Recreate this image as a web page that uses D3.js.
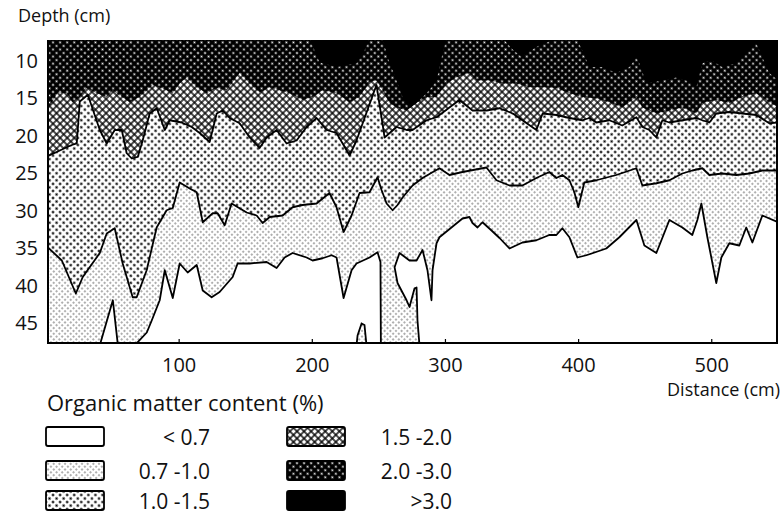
<!DOCTYPE html>
<html>
<head>
<meta charset="utf-8">
<script src="https://cdn.jsdelivr.net/npm/d3@7"></script>
<style>
body { margin: 0; background: #fff; }
text { font-family: "Open Sans", sans-serif; fill: #111; }
</style>
</head>
<body>
<svg id="chart" width="783" height="523"></svg>
<script>
// boundaries between classes, [distance (cm), depth (cm)]
// b1: >3.0 above / 2.0-3.0 below
var b1 = [[0,7],[198,7],[201.7,8.7],[205.5,10.3],[218.3,10.9],[233.2,10.4],[239.2,8.7],[243,7],[252.8,7],[256.5,9.6],[263.3,12.7],[267.8,14.9],[273,16.4],[278.3,15.7],[285.8,14.4],[293.3,12.7],[297.8,9.1],[300.8,7],[343,7],[350,8.5],[357,9.5],[363,8.8],[370.6,8],[378,7.5],[398.3,7],[402.8,8.7],[408.1,10.9],[417.8,10.9],[428.3,11.7],[438.1,10.9],[443.4,9.6],[445.6,10.4],[450.9,13.1],[462.9,12.7],[473.4,12.3],[480.9,12.7],[488.4,13.6],[492.9,10.4],[499.7,10],[507.9,10.9],[518.4,10.4],[528.2,8.7],[533.4,7.7],[538,9.6],[543.2,11.7],[550,12.7]];
// b2: 2.0-3.0 above / 1.5-2.0 below
var b2 = [[0,16.9],[8.9,14.3],[15.6,14.4],[20.1,15.6],[25.4,14.9],[30.6,13.7],[38.1,14.4],[45.6,14.9],[50.1,14],[55.4,14.7],[62.9,15.6],[70.4,14.9],[80.2,13.3],[90.7,14],[95.2,14.4],[100.4,13.1],[105.7,12.3],[113.2,13.6],[120.7,14.4],[128.2,13.7],[135.7,14],[145.4,11.7],[152.9,13.1],[160.4,14.3],[168,13.6],[175.5,14],[183,14.4],[192.9,15.3],[200.3,14.9],[207.8,14],[218.3,14.4],[228,15.6],[235.5,14.9],[243,12.9],[248.2,12.7],[252.8,14],[258,15.7],[263.3,16.3],[270.8,16.7],[278.3,15.7],[285.8,14.9],[293.3,14.9],[300.8,13.1],[308.3,12.3],[318,11.7],[323.3,12.7],[333,12.7],[343.1,13.1],[353.1,13.1],[363,13.6],[373,13.6],[383.3,13.7],[393.1,14.4],[402.8,14.9],[413.3,15.1],[423.1,15.6],[432.8,16.3],[443.4,14.9],[447.9,16.3],[458.4,17.1],[468.2,16.7],[477.9,16.3],[488.4,17.1],[492.9,15.7],[503.4,15.3],[513.2,15.7],[523,14.9],[533.4,14.4],[543.2,15.6],[550,16.3]];
// b3: 1.5-2.0 above / 1.0-1.5 below
var b3 = [[0,22.9],[15.6,21.6],[19.4,21.3],[23.1,21.1],[25.4,15.5],[31.4,14.6],[40.4,19.3],[45.6,21.1],[51.6,19.3],[56.9,19.3],[60.6,22.4],[64.4,23.1],[68.9,22.9],[72.6,20.7],[77.9,17.1],[83.2,16.4],[89.2,19.3],[92.9,18],[101.9,18.3],[109.4,18.9],[115.4,19.7],[122.9,20.9],[128.2,17.1],[132.7,16.7],[137.9,17.7],[145.4,18.4],[153,20.3],[160.4,21.7],[165.7,20.3],[173.2,19.3],[180.7,21.1],[188.2,20.7],[195.7,18.9],[203.2,17.7],[210.7,19.3],[218.2,19.7],[228,22.7],[233.2,20.7],[248.2,13.3],[254.3,20.3],[263.3,18.9],[270.8,19.3],[275.3,19.3],[285.8,18],[293.3,17.6],[303,16.3],[310.5,15.3],[320.3,16.7],[330.8,16.7],[340.6,16.4],[350.6,17.1],[361,18.4],[368.3,19.3],[373,17.1],[383.3,17.3],[393.1,17.7],[402.8,18],[408.1,17.7],[413.3,18.3],[423.1,18],[432.8,18.7],[443.4,17.6],[447.9,18.9],[453.1,19.3],[458.4,20.3],[462.9,18],[468.2,18.3],[477.9,18],[488.4,17.7],[492.9,18],[498.2,18.3],[503.4,17.1],[513.2,16.9],[523,17.1],[533.4,17.3],[543.2,18.4],[550,18.3]];
// b4: 1.0-1.5 above / 0.7-1.0 below
var b4 = [[0,34.7],[11.9,36.7],[22.4,41.1],[27.6,38.9],[40.4,35.7],[45.6,33.1],[51.6,32.4],[57.6,37.1],[65.1,41.6],[68.1,41.6],[75.6,38],[83.1,32.3],[90.6,30],[95.2,29.7],[100.4,26.3],[107.9,27.1],[113.2,27.6],[117.7,31.6],[125.2,30.4],[128.9,30.4],[134.2,32],[139.4,29.1],[150.7,30.3],[158.2,30.7],[162.7,31.7],[168,30.9],[177.7,30.7],[185.2,29.6],[192.7,29.3],[203.2,29.1],[212.9,27.7],[218.2,29.6],[223.5,32.9],[229.5,30.7],[235.5,27.7],[243,27.6],[249,25.6],[252,27.3],[255.8,29.1],[260.3,30],[264,29.3],[267.8,28.3],[275.3,26.7],[282.8,25.7],[295.5,24.4],[303,25.3],[312.8,24.9],[330.8,24.3],[338.3,26],[348.1,26.7],[357.8,26.7],[368.3,25.7],[378,24.9],[383.3,25.7],[387.8,25.3],[393.1,26],[396.8,27.6],[399.8,29.6],[404.3,26.3],[413.3,26],[428.3,25.3],[443.4,24.4],[447.9,26.7],[458.4,26.4],[468.2,26],[477.9,25.1],[485.4,24.7],[492.9,24.4],[498.2,25.3],[508,25.1],[518.5,25.3],[528.2,25.1],[538,24.7],[550,24.7]];
// b5: 0.7-1.0 above / < 0.7 below
var b5 = [[0,48],[40.4,48],[50.2,42],[54,48],[66.7,48],[75.7,46.3],[79.4,44.7],[85.4,42],[89.2,38],[95.2,41.7],[100.4,37.1],[106.4,38.3],[113.2,37.3],[117.7,40.7],[124.4,41.6],[130.4,40.9],[140.2,38.9],[143.9,37.1],[152.9,37.1],[165.7,36.9],[173.2,37.7],[179.2,36.3],[185.2,35.7],[195.7,36.3],[200.2,36.7],[207.7,36.4],[214.5,36],[218.2,36.3],[223.5,41.7],[229.5,38],[233.2,37.1],[243,36.3],[249,35.6],[251.2,36.9],[251.5,48],[280.5,48],[279,44.7],[278.3,40.3],[276.8,40.4],[273,42.9],[270.8,42],[264,39.7],[261.8,37.6],[265.5,35.7],[273,36.7],[278.3,36.7],[282.8,35.3],[286.5,38],[289.5,42],[290.3,38],[293.3,34.4],[295.5,33.6],[312.8,31.1],[318,30.9],[320.3,31.7],[324.1,32.3],[327.8,31.6],[334.6,32.7],[340.6,33.7],[348.1,35.1],[357.8,34.3],[368.3,34],[378,33.3],[383.3,33.3],[387.8,32.4],[393.1,33.6],[399.1,36.3],[405.8,36],[420.8,35.1],[430.6,33.6],[443.4,31.3],[449.4,34.7],[458.4,35.7],[468.2,31.3],[477.9,32.3],[485.4,33.3],[489.2,31.3],[492.2,29.1],[496.7,33.6],[503.4,39.7],[507.2,36.3],[513.2,34.4],[520.7,34.7],[525.9,32.3],[530.5,34.3],[538,30.7],[550,31.6]];
// small 0.7-1.0 patch on the bottom
var blob = [[233.2,48],[234,46.7],[237,45.1],[239.2,45.3],[240.7,48]];

var xTicks = [100, 200, 300, 400, 500];
var yTicks = [10, 15, 20, 25, 30, 35, 40, 45];

var legendLabels = ["< 0.7", "0.7 -1.0", "1.0 -1.5", "1.5 -2.0", "2.0 -3.0", ">3.0"];
var legendFills = ["#fff", "url(#p07)", "url(#p10)", "url(#p15)", "url(#p20)", "#000"];

var svg = d3.select("#chart");
var plot = {left: 48, right: 777, top: 40, bottom: 343};

var x = d3.scaleLinear().domain([1.5, 549]).range([plot.left, plot.right]);
var y = d3.scaleLinear().domain([7.3, 47.7]).range([plot.top, plot.bottom]);

// patterns
var defs = svg.append("defs");

function dotPattern(id, size, r, bg, fg) {
    var p = defs.append("pattern")
        .attr("id", id)
        .attr("patternUnits", "userSpaceOnUse")
        .attr("width", size)
        .attr("height", size)
        .attr("patternTransform", "rotate(45)");
    p.append("rect").attr("width", size).attr("height", size).attr("fill", bg);
    p.append("circle").attr("cx", size / 2).attr("cy", size / 2).attr("r", r).attr("fill", fg);
}
dotPattern("p07", 4, 0.7, "#fff", "#222");
dotPattern("p10", 5, 1.2, "#fff", "#000");
dotPattern("p20", 5, 1.05, "#000", "#fff");

// checker for 1.5 - 2.0
var pc = defs.append("pattern")
    .attr("id", "p15")
    .attr("patternUnits", "userSpaceOnUse")
    .attr("width", 5)
    .attr("height", 5)
    .attr("patternTransform", "rotate(45)");
pc.append("rect").attr("width", 5).attr("height", 5).attr("fill", "#000");
pc.append("rect").attr("x", 0.7).attr("y", 0.7).attr("width", 3.6).attr("height", 3.6).attr("fill", "#fff");

defs.append("clipPath").attr("id", "clip")
    .append("rect")
    .attr("x", plot.left).attr("y", plot.top)
    .attr("width", plot.right - plot.left).attr("height", plot.bottom - plot.top);

var line = d3.line().x(d => x(d[0])).y(d => y(d[1]));

var g = svg.append("g").attr("clip-path", "url(#clip)");

g.append("rect")
    .attr("x", plot.left).attr("y", plot.top)
    .attr("width", plot.right - plot.left).attr("height", plot.bottom - plot.top)
    .attr("fill", "#fff");

// fill each class from the top of the plot down to its lower boundary
var layers = [[b5, "url(#p07)"], [b4, "url(#p10)"], [b3, "url(#p15)"], [b2, "url(#p20)"], [b1, "#000"]];
layers.forEach(function(l) {
    var pts = [[0, 5]].concat(l[0]).concat([[550, 5]]);
    g.append("path").attr("d", line(pts) + "Z").attr("fill", l[1]);
});

g.append("path").attr("d", line(blob)).attr("fill", "url(#p07)")
    .attr("stroke", "#000").attr("stroke-width", 1.8);

[b3, b4, b5].forEach(function(b) {
    g.append("path").attr("d", line(b))
        .attr("fill", "none")
        .attr("stroke", "#000")
        .attr("stroke-width", 1.8)
        .attr("stroke-linejoin", "round");
});

// frame
svg.append("path")
    .attr("d", `M${plot.left},${plot.top}V${plot.bottom}H${plot.right}V${plot.top}`)
    .attr("fill", "none").attr("stroke", "#000").attr("stroke-width", 2);

svg.selectAll(".xtick").data(xTicks).enter().append("line")
    .attr("x1", d => x(d)).attr("x2", d => x(d))
    .attr("y1", plot.bottom).attr("y2", plot.bottom - 4)
    .attr("stroke", "#000").attr("stroke-width", 1.2);

svg.selectAll(".xlab").data(xTicks).enter().append("text")
    .attr("x", d => x(d)).attr("y", 372)
    .attr("text-anchor", "middle")
    .attr("font-size", 20)
    .text(d => d);

svg.selectAll(".ylab").data(yTicks).enter().append("text")
    .attr("x", 38).attr("y", d => y(d))
    .attr("text-anchor", "end")
    .attr("dominant-baseline", "central")
    .attr("font-size", 20)
    .text(d => d);

svg.append("text").attr("x", 18).attr("y", 22).attr("font-size", 18).text("Depth (cm)");
svg.append("text").attr("x", 780).attr("y", 396).attr("text-anchor", "end")
    .attr("font-size", 18).text("Distance (cm)");

// legend
svg.append("text").attr("x", 47).attr("y", 411).attr("font-size", 22)
    .text("Organic matter content (%)");

var rowY = [427, 461, 491];
legendLabels.forEach(function(lab, i) {
    var col = i < 3 ? 0 : 1;
    var row = i % 3;
    var bx = col === 0 ? 46 : 287;
    svg.append("rect")
        .attr("x", bx).attr("y", rowY[row])
        .attr("width", 58).attr("height", 19)
        .attr("rx", 2)
        .attr("fill", legendFills[i])
        .attr("stroke", "#000").attr("stroke-width", 1.8);
    svg.append("text")
        .attr("x", col === 0 ? 210 : 452)
        .attr("y", rowY[row] + 18)
        .attr("text-anchor", "end")
        .attr("font-size", 21)
        .text(lab);
});
</script>
</body>
</html>
